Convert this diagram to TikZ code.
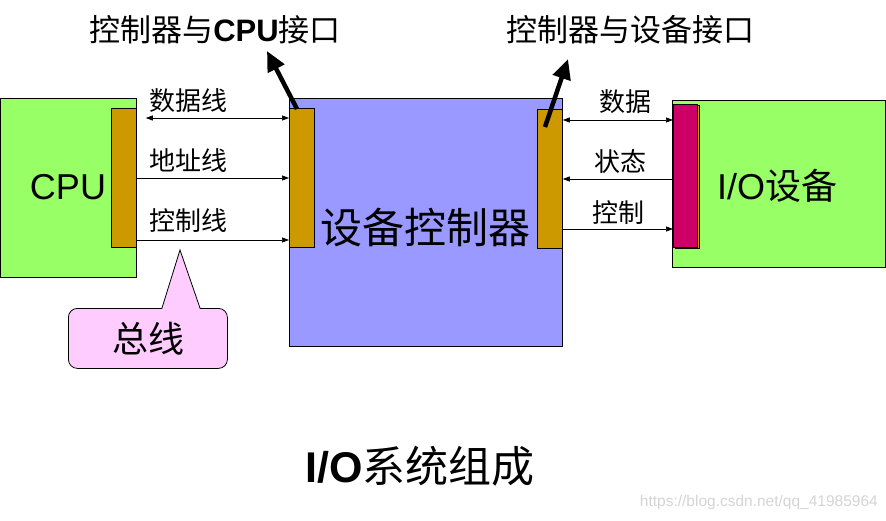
\documentclass[tikz,border=0pt]{standalone}
\usepackage{fontspec}
\setmainfont{Liberation Sans}
\newfontfamily\cjk{Noto Sans CJK SC}
\usetikzlibrary{arrows.meta}
\definecolor{boxgreen}{HTML}{99FF66}
\definecolor{ctrlblue}{HTML}{9999FF}
\definecolor{gold}{HTML}{CC9900}
\definecolor{magent}{HTML}{CC0066}
\definecolor{calloutpink}{HTML}{FFCCFF}
\definecolor{wmgray}{HTML}{D4D4D4}
\tikzset{
  blockbox/.style={draw=black, line width=0.8pt, inner sep=0pt, anchor=north west},
  barbox/.style={draw=black, line width=0.8pt, fill=gold, inner sep=0pt, anchor=north west, minimum width=25pt},
  busline/.style={line width=0.7pt, -{Triangle[length=7pt,width=5pt]}},
  dblline/.style={line width=0.7pt, {Triangle[length=7pt,width=5pt]}-{Triangle[length=7pt,width=5pt]}},
  buslabel/.style={font=\cjk\fontsize{26}{29}\selectfont, inner sep=0pt},
  bigarrow/.style={line width=4.5pt, -{Triangle[length=20pt,width=18pt]}},
  toplabel/.style={font=\fontsize{31}{34}\selectfont, inner sep=0pt}
}
\begin{document}
\begin{tikzpicture}[x=1pt,y=-1pt]
\useasboundingbox (0,0) rectangle (886,520);
% CPU
\node[blockbox, fill=boxgreen, minimum width=136pt, minimum height=179pt] (cpu) at (0,98) {};
\node[font=\fontsize{36}{39}\selectfont, inner sep=0pt] (cputext) at (68,187) {CPU};
\node[barbox, minimum height=139pt] (cpubar) at (111,108) {};
% controller
\node[blockbox, fill=ctrlblue, minimum width=273pt, minimum height=248pt] (ctrl) at (289,98) {};
\node[barbox, minimum height=139pt] (ctrlbarL) at (289,108) {};
\node[barbox, minimum height=139pt] (ctrlbarR) at (537,109) {};
\node[font=\cjk\fontsize{42}{45}\selectfont, inner sep=0pt] (ctrltext) at (425,228) {设备控制器};
% IO device
\node[blockbox, fill=boxgreen, minimum width=213pt, minimum height=167pt] (io) at (672,100) {};
\node[barbox, minimum height=143pt, minimum width=24pt] (iobarS) at (675,105) {};
\node[barbox, fill=magent, minimum height=143pt, minimum width=24pt] (iobar) at (673,104) {};
\node[inner sep=0pt] (iotext) at (777,186) {\fontsize{36}{39}\selectfont I/O{\cjk 设备}};
% left bus
\node[buslabel] (lbl1) at (188,101) {数据线};
\node[buslabel] (lbl2) at (188,161) {地址线};
\node[buslabel] (lbl3) at (188,221) {控制线};
\draw[dblline] ([xshift=9pt]cpubar.east |- 0,118) -- (ctrlbarL.west |- 0,118);
\draw[busline] (cpubar.east |- 0,178) -- (ctrlbarL.west |- 0,178);
\draw[busline] (cpubar.east |- 0,240) -- (ctrlbarL.west |- 0,240);
% right bus
\node[buslabel] (rl1) at (625,102) {数据};
\node[buslabel] (rl2) at (620,162) {状态};
\node[buslabel] (rl3) at (618,213) {控制};
\draw[dblline] (ctrlbarR.east |- 0,120) -- (iobar.west |- 0,120);
\draw[busline] (iobar.west |- 0,179) -- (ctrlbarR.east |- 0,179);
\draw[busline] (ctrlbarR.east |- 0,229) -- (iobar.west |- 0,229);
% top labels and arrows
\node[toplabel] (tl) at (215,30) {{\cjk 控制器与}\textbf{CPU}{\cjk 接口}};
\node[toplabel, font=\cjk\fontsize{31}{34}\selectfont] (tr) at (630,30) {控制器与设备接口};
\coordinate (tlTip) at (267,51);
\coordinate (trTip) at (568,59);
\draw[bigarrow] ([xshift=8pt,yshift=-1pt]ctrlbarL.north west) -- (tlTip);
\draw[bigarrow] ([xshift=8pt,yshift=-18pt]ctrlbarR.north west) -- (trTip);
% callout
\node[draw=black, line width=0.8pt, fill=calloutpink, rounded corners=9pt, minimum width=159pt, minimum height=60pt, inner sep=0pt, anchor=north west] (callout) at (68,308) {};
\coordinate (callTip) at (180,250);
\fill[calloutpink] (162,309.5) -- (callTip) -- (200,309.5) -- cycle;
\draw[line width=0.8pt] (162,308) -- (callTip) -- (200,308);
\node[font=\cjk\fontsize{36}{39}\selectfont, inner sep=0pt] (calltext) at (148,339) {总线};
% title
\node[inner sep=0pt] (title) at (420,466) {\fontsize{43}{46}\selectfont\textbf{I/O}{\cjk 系统组成}};
% watermark
\node[text=wmgray, font=\fontsize{15.5}{17}\selectfont, inner sep=0pt, anchor=east] (wm) at (878,502) {https://blog.csdn.net/qq\_41985964};
\end{tikzpicture}
\end{document}
